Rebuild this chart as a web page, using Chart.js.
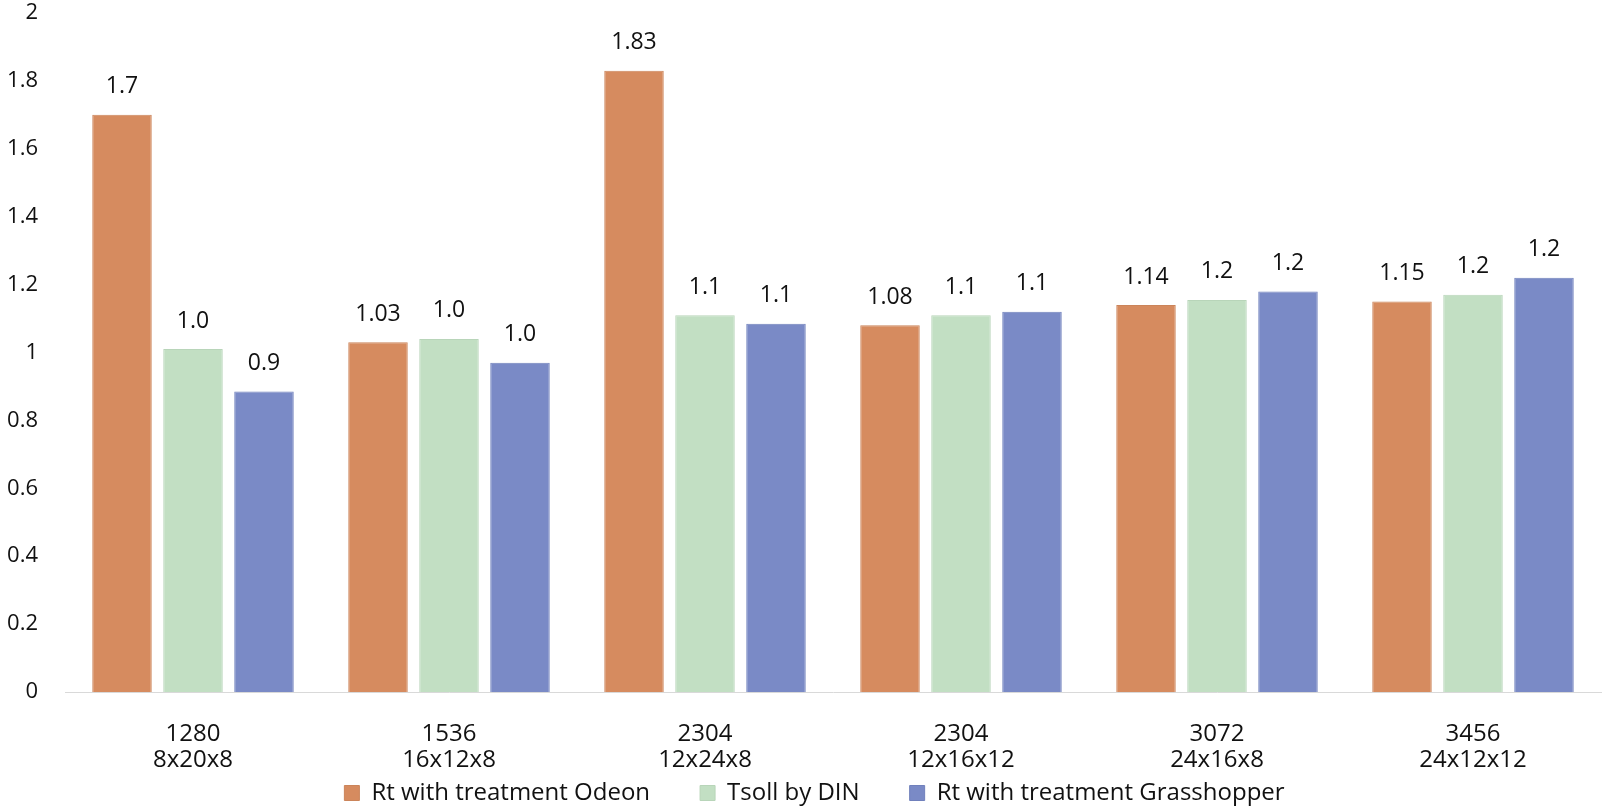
<!DOCTYPE html>
<html>
<head>
<meta charset="utf-8">
<script src="https://cdn.jsdelivr.net/npm/chart.js@4.4.1/dist/chart.umd.min.js"></script>
<style>
html,body{margin:0;padding:0;background:#fff;overflow:hidden;}
#wrap{width:1605px;height:809px;}
canvas{display:block;}
</style>
</head>
<body>
<div id="wrap"><canvas id="c" width="1605" height="809"></canvas></div>
<script>
const categories = [["1280","8x20x8"],["1536","16x12x8"],["2304","12x24x8"],["2304","12x16x12"],["3072","24x16x8"],["3456","24x12x12"]];
const seriesNames = ["Rt with treatment Odeon","Tsoll by DIN","Rt with treatment Grasshopper"];
const odeon = [1.70, 1.03, 1.83, 1.08, 1.14, 1.15];
const din = [1.01, 1.04, 1.11, 1.11, 1.155, 1.17];
const grasshopper = [0.885, 0.97, 1.085, 1.12, 1.18, 1.22];
const odeonLabels = ["1.7","1.03","1.83","1.08","1.14","1.15"];
const dinLabels = ["1.0","1.0","1.1","1.1","1.2","1.2"];
const grasshopperLabels = ["0.9","1.0","1.1","1.1","1.2","1.2"];
const yTicks = [0,0.2,0.4,0.6,0.8,1,1.2,1.4,1.6,1.8,2];

const FONT = "'Open Sans', 'Liberation Sans', sans-serif";
const labelSets = [odeonLabels, dinLabels, grasshopperLabels];

const valueLabels = {
  id: 'valueLabels',
  afterDatasetsDraw(chart) {
    const ctx = chart.ctx;
    ctx.save();
    ctx.font = "23px " + FONT;
    ctx.fillStyle = "#111";
    ctx.textAlign = "center";
    ctx.textBaseline = "middle";
    chart.data.datasets.forEach((ds, i) => {
      const meta = chart.getDatasetMeta(i);
      meta.data.forEach((el, j) => {
        ctx.fillText(labelSets[i][j], el.x, el.y - 28);
      });
    });
    ctx.restore();
  }
};

// nudge the legend block so it sits centred under the plot, close to the axis labels
const legendNudge = {
  id: 'legendNudge',
  afterLayout(chart) {
    const lg = chart.legend;
    if (!lg) return;
    const dx = 14, dy = -41;
    lg.left += dx; lg.right += dx;
    lg.top += dy; lg.bottom += dy;
  }
};

new Chart(document.getElementById('c'), {
  type: 'bar',
  data: {
    labels: categories,
    datasets: [
      {label: seriesNames[0], data: odeon, backgroundColor: '#D68B5F', borderColor: '#CB845A', borderWidth: 1},
      {label: seriesNames[1], data: din, backgroundColor: '#C2DFC3', borderColor: '#B8D5B9', borderWidth: 1},
      {label: seriesNames[2], data: grasshopper, backgroundColor: '#7A8AC6', borderColor: '#7080BC', borderWidth: 1}
    ]
  },
  options: {
    responsive: false,
    animation: false,
    devicePixelRatio: 1,
    layout: {padding: {left: 0, right: 4, top: 13, bottom: -47}},
    datasets: {bar: {categoryPercentage: 0.832, barPercentage: 0.838}},
    plugins: {
      legend: {
        position: 'bottom',
        labels: {
          font: {family: FONT, size: 24},
          color: '#111',
          boxWidth: 15, boxHeight: 15,
          padding: 50
        }
      },
      tooltip: {enabled: false}
    },
    scales: {
      x: {
        grid: {display: false, drawTicks: false},
        border: {display: true, color: '#D9D9D9', width: 1},
        ticks: {font: {family: FONT, size: 24, lineHeight: 1.05}, color: '#111', padding: 30, maxRotation: 0},
        afterFit(s) { s.height = 80; }
      },
      y: {
        min: 0, max: 2,
        afterBuildTicks(s) { s.ticks = yTicks.map(v => ({value: v})); },
        grid: {display: false, drawTicks: false},
        border: {display: false},
        ticks: {font: {family: FONT, size: 22}, color: '#111', padding: 27,
          callback: v => String(Math.round(v*10)/10)},
        afterFit(s) { s.width = 65; s.paddingTop = 0; s.paddingBottom = 0; }
      }
    }
  },
  plugins: [valueLabels, legendNudge]
});
</script>
</body>
</html>
